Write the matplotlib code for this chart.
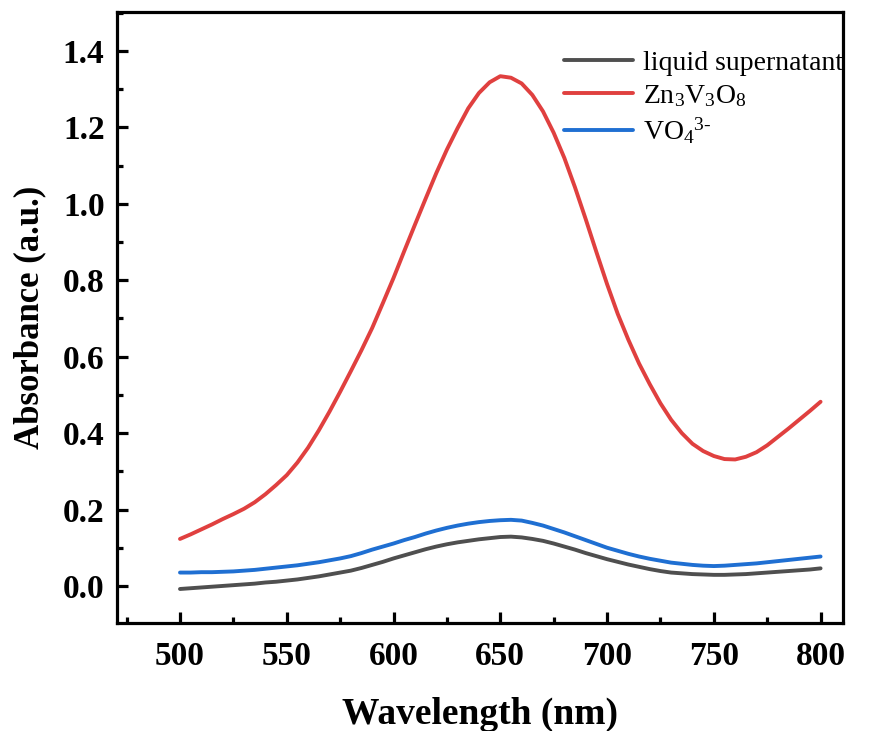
import matplotlib
matplotlib.use("Agg")
import matplotlib.pyplot as plt
from matplotlib.ticker import MultipleLocator, FormatStrFormatter

wavelength = list(range(500, 805, 5))

supernatant = [-0.008, -0.006, -0.004, -0.002, 0.000, 0.002, 0.004, 0.006, 0.009, 0.011,
               0.014, 0.017, 0.021, 0.025, 0.030, 0.035, 0.040, 0.047, 0.055, 0.063,
               0.072, 0.080, 0.088, 0.096, 0.103, 0.109, 0.114, 0.118, 0.122, 0.125,
               0.128, 0.129, 0.127, 0.123, 0.118, 0.111, 0.103, 0.095, 0.086, 0.078,
               0.070, 0.063, 0.056, 0.050, 0.044, 0.039, 0.035, 0.033, 0.031, 0.030,
               0.029, 0.029, 0.030, 0.031, 0.033, 0.035, 0.037, 0.039, 0.041, 0.043, 0.046]

zn3v3o8 = [0.123, 0.135, 0.148, 0.161, 0.175, 0.188, 0.202, 0.219, 0.240, 0.264,
           0.290, 0.323, 0.362, 0.407, 0.456, 0.508, 0.562, 0.617, 0.675, 0.740,
           0.806, 0.876, 0.945, 1.013, 1.080, 1.142, 1.198, 1.250, 1.290, 1.318,
           1.334, 1.330, 1.315, 1.285, 1.242, 1.186, 1.120, 1.043, 0.960, 0.874,
           0.790, 0.712, 0.644, 0.582, 0.528, 0.478, 0.435, 0.400, 0.372, 0.353,
           0.340, 0.332, 0.331, 0.338, 0.350, 0.368, 0.390, 0.412, 0.435, 0.458, 0.482]

vo4 = [0.035, 0.035, 0.036, 0.036, 0.037, 0.038, 0.040, 0.042, 0.045, 0.048,
       0.051, 0.054, 0.058, 0.062, 0.067, 0.072, 0.078, 0.086, 0.095, 0.103,
       0.111, 0.120, 0.128, 0.137, 0.145, 0.152, 0.158, 0.163, 0.167, 0.170,
       0.172, 0.173, 0.171, 0.165, 0.158, 0.149, 0.140, 0.130, 0.120, 0.110,
       0.100, 0.092, 0.084, 0.077, 0.071, 0.066, 0.061, 0.058, 0.055, 0.053,
       0.052, 0.053, 0.055, 0.057, 0.059, 0.062, 0.065, 0.068, 0.071, 0.074, 0.077]

labels = ["liquid supernatant", r"Zn$_3$V$_3$O$_8$", r"VO$_4$$^{3\text{-}}$"]
colors = ["#4f4f4f", "#e0403f", "#1f6fd2"]

plt.rcParams['font.family'] = ['Liberation Serif', 'DejaVu Serif']
plt.rcParams['mathtext.fontset'] = 'custom'
plt.rcParams['mathtext.rm'] = 'Liberation Serif'
plt.rcParams['mathtext.it'] = 'Liberation Serif'
plt.rcParams['mathtext.bf'] = 'Liberation Serif:bold'

fig = plt.figure(figsize=(8.71, 7.31), dpi=100)
ax = fig.add_axes([117/871, 1-623/731, (843-117)/871, (623-12)/731])

for y, lab, c in zip([supernatant, zn3v3o8, vo4], labels, colors):
    ax.plot(wavelength, y, color=c, lw=2.8, label=lab, solid_capstyle='round',
            solid_joinstyle='round')

ax.set_xlim(470.5, 810.5)
ax.set_ylim(-0.097, 1.502)
ax.xaxis.set_major_locator(MultipleLocator(50))
ax.xaxis.set_minor_locator(MultipleLocator(25))
ax.yaxis.set_major_locator(MultipleLocator(0.2))
ax.yaxis.set_minor_locator(MultipleLocator(0.1))
ax.yaxis.set_major_formatter(FormatStrFormatter('%.1f'))

for s in ax.spines.values():
    s.set_linewidth(2.3)
ax.tick_params(which='both', direction='in', top=False, right=False, width=2.3)
ax.tick_params(which='major', length=8, labelsize=24, pad=9)
ax.tick_params(axis='x', which='major', pad=13)
ax.tick_params(which='minor', length=4)
for t in ax.get_xticklabels() + ax.get_yticklabels():
    t.set_fontweight('bold')

ax.set_xlabel("Wavelength (nm)", fontsize=27, fontweight='bold', labelpad=18)
ax.set_ylabel("Absorbance (a.u.)", fontsize=25, fontweight='bold', labelpad=12)

leg = ax.legend(loc='upper right', frameon=False, fontsize=20, handlelength=2.5,
                handletextpad=0.35, labelspacing=0.25, borderaxespad=0.0,
                bbox_to_anchor=(1.015, 0.955))

fig.savefig("out.png", dpi=100)
